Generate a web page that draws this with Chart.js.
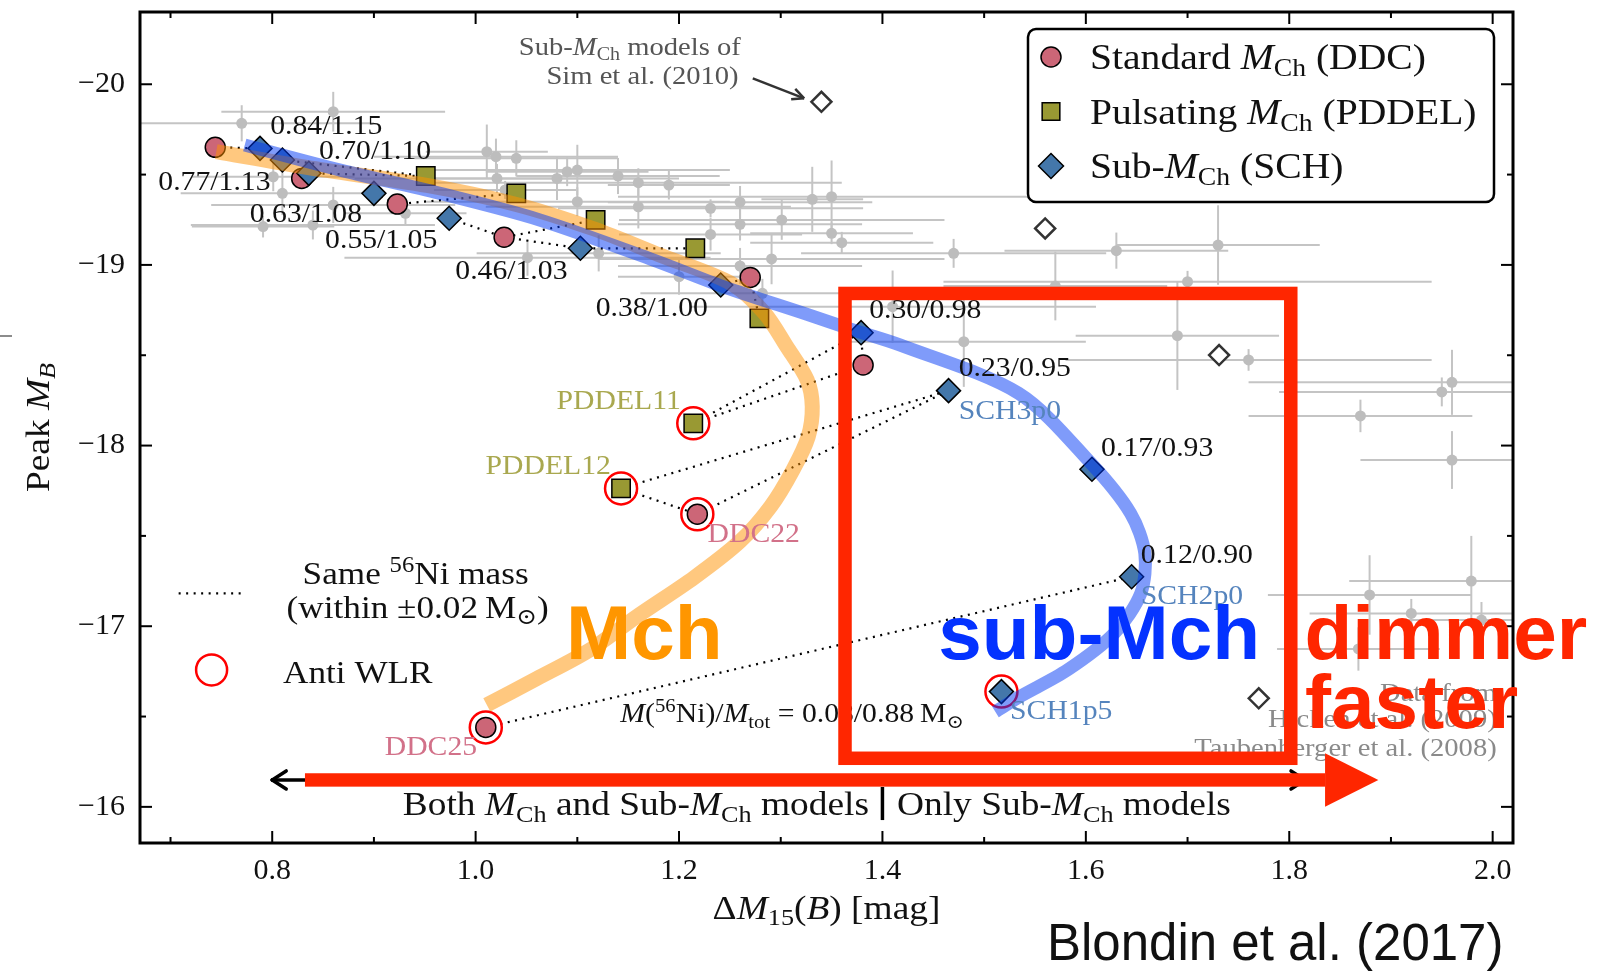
<!DOCTYPE html>
<html>
<head>
<meta charset="utf-8">
<title>Peak M_B vs Delta M15(B)</title>
<script src="https://cdn.jsdelivr.net/npm/chart.js@4.4.0/dist/chart.umd.min.js"></script>
<style>
  html, body { margin: 0; padding: 0; background: #fff; }
  #wrap { width: 1613px; height: 978px; }
</style>
</head>
<body>
<div id="wrap"><canvas id="chart" width="1613" height="978"></canvas></div>
<script>
// ---- axis ticks ----
const xTicks = [0.8, 1.0, 1.2, 1.4, 1.6, 1.8, 2.0];
const xMinorTicks = [0.7, 0.9, 1.1, 1.3, 1.5, 1.7, 1.9];
const yTicks = [-20, -19, -18, -17, -16];
const yMinorTicks = [-19.5, -18.5, -17.5, -16.5];

// ---- models ----
// standard Mch (DDC)
const ddcX = [0.744, 0.829, 0.923, 1.028, 1.270, 1.381, 1.218, 1.010];
const ddcY = [-19.651, -19.479, -19.337, -19.153, -18.931, -18.446, -17.620, -16.440];
// pulsating Mch (PDDEL)
const pddelX = [0.951, 1.040, 1.118, 1.216, 1.279, 1.214, 1.143];
const pddelY = [-19.492, -19.396, -19.249, -19.092, -18.704, -18.123, -17.763];
// sub-Mch (SCH)
const schX = [0.788, 0.810, 0.836, 0.900, 0.974, 1.103, 1.241, 1.379, 1.465, 1.606, 1.645, 1.517];
const schY = [-19.645, -19.581, -19.507, -19.396, -19.258, -19.092, -18.889, -18.625, -18.304, -17.869, -17.274, -16.638];
// Sim et al. (2010)
const simX = [1.340, 1.560, 1.731, 1.770];
const simY = [-19.903, -19.202, -18.501, -16.601];
// anti width-luminosity models (PDDEL11, PDDEL12, DDC22, DDC25, SCH1p5)
const antiX = [1.214, 1.143, 1.218, 1.010, 1.517];
const antiY = [-18.123, -17.763, -17.620, -16.440, -16.638];

// same 56Ni mass links
const niLinks = [
  [['ddc', 0], ['sch', 0]],
  [['sch', 1], ['pddel', 0]],
  [['ddc', 1], ['sch', 2], ['pddel', 0]],
  [['sch', 3], ['ddc', 2], ['pddel', 1]],
  [['sch', 4], ['ddc', 3], ['pddel', 2]],
  [['ddc', 3], ['sch', 5], ['pddel', 3]],
  [['sch', 6], ['ddc', 4], ['pddel', 4]],
  [['sch', 7], ['ddc', 5]],
  [['pddel', 5], ['sch', 7]],
  [['pddel', 5], ['ddc', 5]],
  [['pddel', 6], ['sch', 8]],
  [['ddc', 6], ['sch', 8]],
  [['pddel', 6], ['ddc', 6]],
  [['ddc', 7], ['sch', 10]]
];

// model tracks
const mchTrackX = [0.745, 0.834, 0.952, 1.040, 1.116, 1.181, 1.251, 1.284, 1.306, 1.326, 1.331, 1.327, 1.312, 1.290, 1.260, 1.215, 1.160, 1.112, 1.060, 1.011];
const mchTrackY = [-19.627, -19.540, -19.440, -19.335, -19.200, -19.055, -18.898, -18.734, -18.547, -18.363, -18.215, -18.049, -17.865, -17.662, -17.470, -17.270, -17.060, -16.868, -16.710, -16.564];
const subTrackX = [0.773, 0.867, 0.965, 1.063, 1.175, 1.244, 1.326, 1.371, 1.417, 1.534, 1.605, 1.644, 1.658, 1.654, 1.628, 1.582, 1.535, 1.511];
const subTrackY = [-19.664, -19.525, -19.396, -19.249, -19.027, -18.879, -18.726, -18.640, -18.557, -18.289, -17.902, -17.625, -17.404, -17.182, -16.961, -16.758, -16.610, -16.527];

// ---- observed SNe Ia (Hicken 2009, Taubenberger 2008) ----
const obsX = [0.770, 0.860, 0.801, 0.810, 0.791, 0.840, 0.860, 0.931, 1.011, 1.020, 1.040, 1.021, 1.080, 1.090, 1.100, 1.140, 1.160, 1.100, 1.160, 1.029, 1.051, 1.121, 1.190, 1.231, 1.260, 1.260, 1.301, 1.231, 1.200, 1.260, 1.282, 1.291, 1.331, 1.350, 1.350, 1.360, 1.470, 1.630, 1.570, 1.730, 1.700, 1.690, 1.760, 1.410, 1.480, 1.960, 1.950, 1.870, 1.960, 1.879, 1.979, 1.920, 1.989, 1.868];
const obsY = [-19.784, -19.848, -19.488, -19.396, -19.212, -19.221, -19.332, -19.286, -19.627, -19.599, -19.590, -19.479, -19.479, -19.516, -19.525, -19.492, -19.455, -19.350, -19.322, -19.415, -19.040, -19.064, -19.442, -19.313, -19.347, -19.225, -19.249, -19.169, -18.935, -18.994, -18.843, -19.033, -19.363, -19.378, -19.175, -19.123, -19.064, -19.079, -18.883, -19.110, -18.907, -18.608, -18.474, -18.769, -18.575, -18.350, -18.297, -18.164, -17.920, -17.173, -17.250, -17.071, -17.034, -16.874];
const obsXerr = [0.13, 0.11, 0.08, 0.10, 0.07, 0.12, 0.12, 0.06, 0.06, 0.12, 0.10, 0.14, 0.12, 0.08, 0.15, 0.10, 0.20, 0.15, 0.15, 0.07, 0.18, 0.12, 0.06, 0.15, 0.13, 0.12, 0.16, 0.09, 0.06, 0.12, 0.12, 0.17, 0.05, 0.21, 0.08, 0.09, 0.15, 0.11, 0.11, 0.10, 0.24, 0.10, 0.18, 0.20, 0.12, 0.20, 0.16, 0.11, 0.09, 0.10, 0.12, 0.10, 0.08, 0.08];
const obsYerr = [0.10, 0.11, 0.08, 0.12, 0.06, 0.08, 0.10, 0.07, 0.15, 0.10, 0.10, 0.08, 0.12, 0.08, 0.14, 0.10, 0.08, 0.08, 0.12, 0.05, 0.10, 0.10, 0.08, 0.05, 0.09, 0.09, 0.11, 0.09, 0.10, 0.10, 0.08, 0.14, 0.18, 0.20, 0.06, 0.06, 0.08, 0.10, 0.19, 0.22, 0.06, 0.30, 0.06, 0.20, 0.25, 0.18, 0.08, 0.09, 0.16, 0.22, 0.25, 0.08, 0.10, 0.12];

// ---- styling ----
const SERIF = '"Liberation Serif", "Times New Roman", "DejaVu Serif", serif';
const SANS = '"Liberation Sans", Arial, sans-serif';
const STRETCH = 1.1;
const ROSE = '#cc6677', OLIVE = '#999933', STEEL = '#4477aa';
const RED = '#ff2600';

// text labels next to the models (text, x, y in data units, colour)
const modelNotes = [
  ['0.84/1.15', 0.798, -19.777, '#111'],
  ['0.70/1.10', 0.846, -19.636, '#111'],
  ['0.77/1.13', 0.688, -19.464, '#111'],
  ['0.63/1.08', 0.778, -19.287, '#111'],
  ['0.55/1.05', 0.852, -19.145, '#111'],
  ['0.46/1.03', 0.980, -18.975, '#111'],
  ['0.38/1.00', 1.118, -18.770, '#111'],
  ['0.30/0.98', 1.387, -18.758, '#111'],
  ['0.23/0.95', 1.475, -18.434, '#111'],
  ['0.17/0.93', 1.615, -17.995, '#111'],
  ['0.12/0.90', 1.654, -17.403, '#111'],
  ['PDDEL11', 1.0795, -18.252, '#a9a84f'],
  ['PDDEL12', 1.0097, -17.892, '#a9a84f'],
  ['DDC22', 1.228, -17.517, '#d27189'],
  ['DDC25', 0.9106, -16.338, '#d27189'],
  ['SCH3p0', 1.475, -18.200, '#5584bd'],
  ['SCH2p0', 1.654, -17.175, '#5584bd'],
  ['SCH1p5', 1.5255, -16.537, '#5584bd']
];

const pts = (xs, ys) => xs.map((x, i) => ({ x: x, y: ys[i] }));
const models = { ddc: pts(ddcX, ddcY), pddel: pts(pddelX, pddelY), sch: pts(schX, schY) };

function drawRich(ctx, segs, x, cy, size, color, align) {
  const parts = segs.map(([t, st]) => {
    const sub = st.indexOf('sub') >= 0, sup = st.indexOf('sup') >= 0;
    const fs = (sub || sup) ? size * 0.7 : size;
    const font = (st.charAt(0) === 'i' ? 'italic ' : '') + fs.toFixed(1) + 'px ' + SERIF;
    ctx.font = font;
    return { t: t, font: font, dy: sub ? size * 0.2 : (sup ? -size * 0.38 : 0), w: ctx.measureText(t).width };
  });
  const w = parts.reduce((s, p) => s + p.w, 0) * STRETCH;
  const x0 = align === 'center' ? x - w / 2 : (align === 'right' ? x - w : x);
  ctx.save();
  ctx.translate(x0, cy + size * 0.34);
  ctx.scale(STRETCH, 1);
  ctx.fillStyle = color;
  ctx.textAlign = 'left';
  ctx.textBaseline = 'alphabetic';
  let cx = 0;
  parts.forEach(p => { ctx.font = p.font; ctx.fillText(p.t, cx, p.dy); cx += p.w; });
  ctx.restore();
}

function drawMarker(ctx, style, x, y, r, fill, stroke, lw) {
  ctx.save();
  ctx.beginPath();
  if (style === 'circle') ctx.arc(x, y, r, 0, Math.PI * 2);
  else if (style === 'rect') { const h = r * Math.SQRT1_2; ctx.rect(x - h, y - h, 2 * h, 2 * h); }
  else { ctx.moveTo(x - r, y); ctx.lineTo(x, y - r); ctx.lineTo(x + r, y); ctx.lineTo(x, y + r); ctx.closePath(); }
  ctx.fillStyle = fill; ctx.fill();
  ctx.lineWidth = lw; ctx.strokeStyle = stroke; ctx.stroke();
  ctx.restore();
}

function drawBig(ctx, t, x, base, color) {
  ctx.save();
  ctx.translate(x, base);
  ctx.scale(1.03, 1);
  ctx.font = 'bold 76px ' + SANS;
  ctx.fillStyle = color;
  ctx.textAlign = 'left';
  ctx.textBaseline = 'alphabetic';
  ctx.fillText(t, 0, 0);
  ctx.restore();
}

function line(ctx, x1, y1, x2, y2) { ctx.beginPath(); ctx.moveTo(x1, y1); ctx.lineTo(x2, y2); ctx.stroke(); }

const decor = {
  id: 'decor',
  beforeDatasetsDraw(chart) {
    const { ctx, chartArea: a, scales: { x: sx, y: sy } } = chart;
    ctx.save();
    ctx.beginPath(); ctx.rect(a.left, a.top, a.width, a.height); ctx.clip();
    ctx.strokeStyle = '#c4c4c4';
    ctx.lineWidth = 2;
    obsX.forEach((v, i) => {
      const px = sx.getPixelForValue(v), py = sy.getPixelForValue(obsY[i]);
      line(ctx, sx.getPixelForValue(v - obsXerr[i]), py, sx.getPixelForValue(v + obsXerr[i]), py);
      line(ctx, px, sy.getPixelForValue(obsY[i] - obsYerr[i]), px, sy.getPixelForValue(obsY[i] + obsYerr[i]));
    });
    ctx.restore();
  },
  afterDraw(chart) {
    const { ctx, chartArea: a, scales: { x: sx, y: sy } } = chart;
    const X = v => sx.getPixelForValue(v), Y = v => sy.getPixelForValue(v);
    ctx.save();

    // frame and inward ticks
    ctx.strokeStyle = '#000';
    ctx.lineWidth = 2;
    xTicks.forEach(v => { const p = X(v); line(ctx, p, a.bottom, p, a.bottom - 12); line(ctx, p, a.top, p, a.top + 12); });
    xMinorTicks.forEach(v => { const p = X(v); line(ctx, p, a.bottom, p, a.bottom - 6); line(ctx, p, a.top, p, a.top + 6); });
    yTicks.forEach(v => { const p = Y(v); line(ctx, a.left, p, a.left + 12, p); line(ctx, a.right, p, a.right - 12, p); });
    yMinorTicks.forEach(v => { const p = Y(v); line(ctx, a.left, p, a.left + 6, p); line(ctx, a.right, p, a.right - 6, p); });
    ctx.lineWidth = 3;
    ctx.strokeRect(a.left, a.top, a.width, a.height);

    // legend box
    const lx = a.right - 485, ly = a.top + 17, lw = 466, lh = 173;
    ctx.beginPath();
    ctx.roundRect(lx, ly, lw, lh, 8);
    ctx.fillStyle = '#fff'; ctx.fill();
    ctx.lineWidth = 2.5; ctx.strokeStyle = '#000'; ctx.stroke();
    const legendRows = [
      ['circle', 10, ROSE, [['Standard ', ''], ['M', 'i'], ['Ch', 'sub'], [' (DDC)', '']]],
      ['rect', 12.5, OLIVE, [['Pulsating ', ''], ['M', 'i'], ['Ch', 'sub'], [' (PDDEL)', '']]],
      ['diamond', 12.5, STEEL, [['Sub-', ''], ['M', 'i'], ['Ch', 'sub'], [' (SCH)', '']]]
    ];
    legendRows.forEach((row, i) => {
      const ry = ly + 28 + i * 54.5;
      drawMarker(ctx, row[0], lx + 23, ry, row[1], row[2], '#000', 1.5);
      drawRich(ctx, row[3], lx + 62, ry, 36, '#111', 'left');
    });

    // model labels
    modelNotes.forEach(n => drawRich(ctx, [[n[0], '']], X(n[1]), Y(n[2]), 27, n[3], 'left'));
    drawRich(ctx, [['M', 'i'], ['(', ''], ['56', 'sup'], ['Ni)/', ''], ['M', 'i'], ['tot', 'sub'], [' = 0.08/0.88\u2009M', ''], ['\u2299', 'sub']],
      X(1.1423), Y(-16.52), 27, '#111', 'left');

    // Sim et al. note with arrow
    drawRich(ctx, [['Sub-', ''], ['M', 'i'], ['Ch', 'sub'], [' models of', '']], X(1.2607), Y(-20.21), 26, '#555', 'right');
    drawRich(ctx, [['Sim et al. (2010)', '']], X(1.2586), Y(-20.051), 26, '#555', 'right');
    ctx.strokeStyle = '#333'; ctx.lineWidth = 2.5;
    const ax1 = X(1.2725), ay1 = Y(-20.033), ax2 = X(1.323), ay2 = Y(-19.922);
    line(ctx, ax1, ay1, ax2, ay2);
    const ang = Math.atan2(ay2 - ay1, ax2 - ax1);
    [0.45, -0.45].forEach(d => line(ctx, ax2, ay2, ax2 - 13 * Math.cos(ang + d), ay2 - 13 * Math.sin(ang + d)));

    // data source note
    drawRich(ctx, [['Data from', '']], X(2.004), Y(-16.637), 26, '#8a8a8a', 'right');
    drawRich(ctx, [['Hicken et al. (2009)', '']], X(2.004), Y(-16.490), 26, '#8a8a8a', 'right');
    drawRich(ctx, [['Taubenberger et al. (2008)', '']], X(2.004), Y(-16.333), 26, '#8a8a8a', 'right');

    // inline legend
    drawRich(ctx, [['Same ', ''], ['56', 'sup'], ['Ni mass', '']], X(0.941), Y(-17.295), 32, '#111', 'center');
    drawRich(ctx, [['(within \u00b10.02\u2009M', ''], ['\u2299', 'sub'], [')', '']], X(0.943), Y(-17.106), 32, '#111', 'center');
    ctx.strokeStyle = '#000'; ctx.lineWidth = 2.2; ctx.setLineDash([2, 5.5]);
    line(ctx, X(0.708), Y(-17.182), X(0.773), Y(-17.182));
    ctx.setLineDash([]);
    ctx.beginPath(); ctx.arc(X(0.7404), Y(-16.758), 15.5, 0, Math.PI * 2);
    ctx.strokeStyle = '#ff0000'; ctx.lineWidth = 2.5; ctx.stroke();
    drawRich(ctx, [['Anti WLR', '']], X(0.8106), Y(-16.748), 32, '#111', 'left');

    // double arrow and bottom captions
    const ya = Y(-16.149);
    ctx.strokeStyle = '#000'; ctx.lineWidth = 3.5; ctx.lineCap = 'round';
    const xl = X(0.8), xr = X(1.8155);
    line(ctx, xl, ya, xr, ya);
    line(ctx, xl, ya, xl + 14, ya - 9); line(ctx, xl, ya, xl + 14, ya + 9);
    line(ctx, xr, ya, xr - 14, ya - 9); line(ctx, xr, ya, xr - 14, ya + 9);
    ctx.lineCap = 'butt';
    line(ctx, X(1.4), Y(-16.11), X(1.4), Y(-15.927));
    drawRich(ctx, [['Both ', ''], ['M', 'i'], ['Ch', 'sub'], [' and Sub-', ''], ['M', 'i'], ['Ch', 'sub'], [' models', '']], X(1.3868), Y(-16.019), 34, '#111', 'right');
    drawRich(ctx, [['Only Sub-', ''], ['M', 'i'], ['Ch', 'sub'], [' models', '']], X(1.4143), Y(-16.019), 34, '#111', 'left');

    // red highlight box and arrow
    ctx.strokeStyle = RED; ctx.lineWidth = 13.5; ctx.lineJoin = 'miter';
    ctx.strokeRect(X(1.3632), Y(-18.842), X(1.8015) - X(1.3632), Y(-16.269) - Y(-18.842));
    ctx.fillStyle = RED;
    ctx.fillRect(X(0.8322), ya - 6.7, X(1.8352) - X(0.8322), 13.4);
    ctx.beginPath();
    ctx.moveTo(X(1.8352), ya - 26.7); ctx.lineTo(X(1.8876), ya); ctx.lineTo(X(1.8352), ya + 26.7);
    ctx.closePath(); ctx.fill();

    // big labels
    drawBig(ctx, 'Mch', X(1.0889), Y(-16.816), '#ff9600');
    drawBig(ctx, 'sub-Mch', X(1.4549), Y(-16.816), '#0432ff');
    drawBig(ctx, 'dimmer', X(1.8149), Y(-16.816), RED);
    drawBig(ctx, 'faster', X(1.8155), Y(-16.435), RED);

    // axis titles
    drawRich(ctx, [['\u0394', ''], ['M', 'i'], ['15', 'sub'], ['(', ''], ['B', 'i'], [') [mag]', '']], (a.left + a.right) / 2, 907, 34, '#111', 'center');
    ctx.save();
    ctx.translate(37, (a.top + a.bottom) / 2);
    ctx.rotate(-Math.PI / 2);
    drawRich(ctx, [['Peak ', ''], ['M', 'i'], ['B', 'isub']], 0, 0, 34, '#111', 'center');
    ctx.restore();
    ctx.strokeStyle = '#666'; ctx.lineWidth = 1.5;
    line(ctx, 0, 336, 12, 336);

    // caption
    ctx.font = '51px ' + SANS;
    ctx.fillStyle = '#111';
    ctx.textAlign = 'left'; ctx.textBaseline = 'alphabetic';
    ctx.fillText('Blondin et al. (2017)', 1047, 960);
    ctx.restore();
  }
};

const datasets = [
  { label: 'Observed', data: pts(obsX, obsY), pointRadius: 5.5, pointBackgroundColor: '#bdbdbd', pointBorderWidth: 0, order: 10 }
].concat(niLinks.map(link => ({
  label: 'same Ni', data: link.map(([m, i]) => models[m][i]), showLine: true,
  borderColor: '#000', borderWidth: 2.2, borderDash: [2, 5.5], pointRadius: 0, order: 9
}))).concat([
  { label: 'Anti WLR', data: pts(antiX, antiY), pointRadius: 16, pointBackgroundColor: 'rgba(0,0,0,0)', pointBorderColor: '#ff0000', pointBorderWidth: 2.5, order: 8 },
  { label: 'Sim 2010', data: pts(simX, simY), pointStyle: 'rectRot', pointRadius: 10, pointBackgroundColor: '#fff', pointBorderColor: '#333', pointBorderWidth: 2.5, order: 7 },
  { label: 'DDC', data: models.ddc, pointStyle: 'circle', pointRadius: 10, pointBackgroundColor: ROSE, pointBorderColor: '#000', pointBorderWidth: 1.5, order: 6 },
  { label: 'PDDEL', data: models.pddel, pointStyle: 'rect', pointRadius: 13, pointBackgroundColor: OLIVE, pointBorderColor: '#000', pointBorderWidth: 1.5, order: 5 },
  { label: 'SCH', data: models.sch, pointStyle: 'rectRot', pointRadius: 12, pointBackgroundColor: STEEL, pointBorderColor: '#000', pointBorderWidth: 1.5, order: 4 },
  { label: 'Mch track', data: pts(mchTrackX, mchTrackY), showLine: true, tension: 0.3, borderColor: 'rgba(255,145,0,0.5)', borderWidth: 15, pointRadius: 0, order: 2 },
  { label: 'sub-Mch track', data: pts(subTrackX, subTrackY), showLine: true, tension: 0.3, borderColor: 'rgba(0,55,245,0.5)', borderWidth: 13, pointRadius: 0, order: 1 }
]);

const tickFont = { family: 'Liberation Serif', size: 30 };

new Chart(document.getElementById('chart'), {
  type: 'scatter',
  data: { datasets: datasets },
  options: {
    responsive: false,
    animation: false,
    events: [],
    layout: { autoPadding: false, padding: { left: 0, right: 100, top: 12, bottom: 0 } },
    plugins: { legend: { display: false }, tooltip: { enabled: false } },
    scales: {
      x: {
        type: 'linear', min: 0.67, max: 2.02,
        afterBuildTicks: s => { s.ticks = xTicks.map(v => ({ value: v })); },
        afterFit: s => { s.height = 135; s.paddingLeft = 0; s.paddingRight = 0; },
        grid: { display: false, drawTicks: false },
        border: { display: false },
        ticks: { font: tickFont, color: '#111', padding: 10, maxRotation: 0, callback: v => Number(v).toFixed(1) }
      },
      y: {
        type: 'linear', min: -20.4, max: -15.8, reverse: true,
        afterBuildTicks: s => { s.ticks = yTicks.map(v => ({ value: v })); },
        afterFit: s => { s.width = 140; s.paddingTop = 0; s.paddingBottom = 0; },
        grid: { display: false, drawTicks: false },
        border: { display: false },
        ticks: { font: tickFont, color: '#111', padding: 15, callback: v => '\u2212' + Math.abs(v) }
      }
    }
  },
  plugins: [decor]
});
</script>
</body>
</html>
